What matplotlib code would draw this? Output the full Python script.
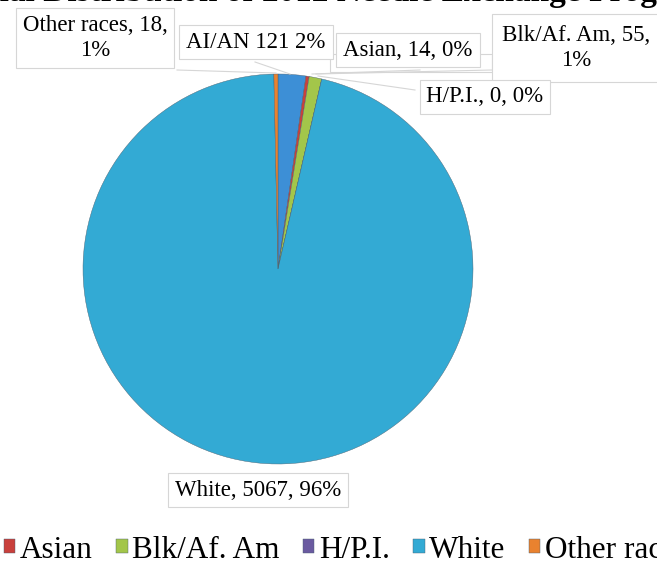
import matplotlib
matplotlib.use('Agg')
import matplotlib.pyplot as plt
from matplotlib.patches import Rectangle

# data
races = ['AI/AN', 'Asian', 'Blk/Af. Am', 'H/P.I.', 'White', 'Other races']
counts = [121, 14, 55, 0, 5067, 18]
pcts = [2, 0, 1, 0, 96, 1]
colors = ['#3d8fd6', '#c9403c', '#a3c64a', '#6a5aa0', '#33aad4', '#e9822f']

W, H = 657, 565
fig = plt.figure(figsize=(W / 100, H / 100), dpi=100)
fig.patch.set_facecolor('white')

def fx(x):
    return x / W

def fy(y):
    return 1 - y / H

# pie axes, centre (278, 269), radius 195 px
cx, cy, r = 278, 269, 195
ax = fig.add_axes([fx(cx - r), fy(cy + r), 2 * r / W, 2 * r / H])
wedges, _ = ax.pie(counts, colors=colors, startangle=90, counterclock=False,
                   wedgeprops=dict(edgecolor='#4a6070', linewidth=0.3))
ax.set_xlim(-1, 1)
ax.set_ylim(-1, 1)
ax.axis('off')

serif = 'Liberation Serif'

# title (mostly cut off at top)
fig.text(fx(330), fy(1), 'Racial Distribution of 2012 Needle Exchange Program',
         ha='center', va='baseline', fontsize=24, fontweight='bold', family=serif)

# leader lines
lines = [((177, 70), (276, 73)), ((255, 62), (290, 74)), ((420, 70), (312, 74)),
         ((492, 70), (316, 74)), ((415, 90), (318, 76))]
for (x0, y0), (x1, y1) in lines:
    fig.add_artist(plt.Line2D([fx(x0), fx(x1)], [fy(y0), fy(y1)],
                              color='#d6d6d6', lw=0.8))

box = dict(boxstyle='square,pad=0.3', facecolor='white', edgecolor='#d6d6d6', lw=0.8)

def lab(i, two_lines=False, sep=', '):
    if two_lines:
        return f'{races[i]}, {counts[i]},\n{pcts[i]}%'
    return f'{races[i]}{sep}{counts[i]}{sep}{pcts[i]}%'

fs = 16.5
fig.text(fx(95), fy(38), lab(5, True), ha='center', va='center', fontsize=fs,
         family=serif, bbox=box, linespacing=1.3)
fig.text(fx(408), fy(50), lab(1), ha='center', va='center', fontsize=fs,
         family=serif, bbox=box)
# lower part of the Asian label is hidden behind another box
fig.add_artist(Rectangle((fx(330), fy(72)), 162 / W, 18 / H, transform=fig.transFigure,
                         facecolor='white', edgecolor='#d6d6d6', lw=0.8))
fig.text(fx(256), fy(42), lab(0, sep=' '), ha='center', va='center', fontsize=fs,
         family=serif, bbox=box)
fig.text(fx(576), fy(48), lab(2, True), ha='center', va='center', fontsize=fs,
         family=serif, bbox=dict(boxstyle='square,pad=0.45', facecolor='white',
                                 edgecolor='#d6d6d6', lw=0.8), linespacing=1.3)
fig.text(fx(485), fy(97), lab(3), ha='center', va='center', fontsize=fs,
         family=serif, bbox=box)
fig.text(fx(258), fy(490), lab(4), ha='center', va='center', fontsize=fs,
         family=serif, bbox=box)

# legend (AI/AN and part of "Other races" fall outside the crop)
leg = fig.legend(wedges[1:], races[1:], loc='center left', bbox_to_anchor=(fx(4), fy(550)),
                 ncol=5, frameon=False, handlelength=0.36, handleheight=0.3,
                 handletextpad=0.15, columnspacing=0.75, borderaxespad=0, borderpad=0,
                 prop={'family': serif, 'size': 22.5})

fig.savefig('out.png', dpi=100, facecolor='white')
